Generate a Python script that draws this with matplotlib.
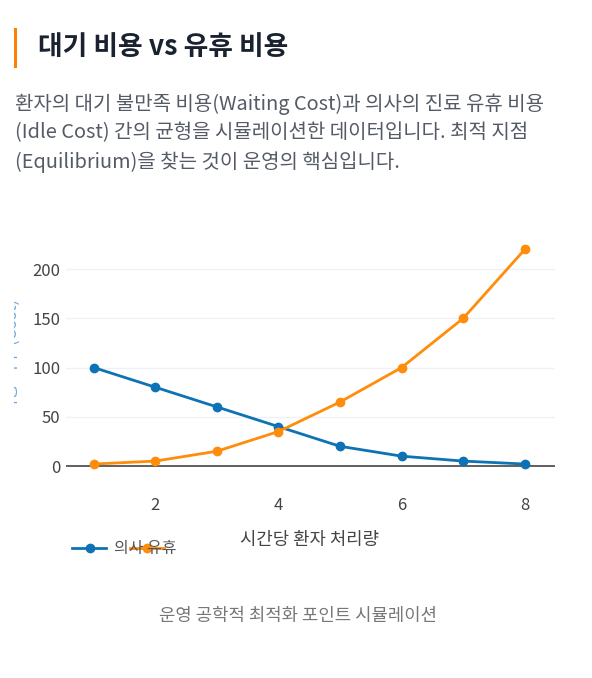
import matplotlib
matplotlib.use("Agg")
import matplotlib.pyplot as plt
from matplotlib.lines import Line2D
from matplotlib.patches import Rectangle

plt.rcParams['font.family'] = ['Noto Sans CJK KR', 'DejaVu Sans']

# data
throughput = [1, 2, 3, 4, 5, 6, 7, 8]
idle_cost = [100, 80, 60, 40, 20, 10, 5, 2]
wait_cost = [2, 5, 15, 35, 65, 100, 150, 220]
x_ticks = [2, 4, 6, 8]
y_ticks = [0, 50, 100, 150, 200]

title = "대기 비용 vs 유휴 비용"
desc = ["환자의 대기 불만족 비용(Waiting Cost)과 의사의 진료 유휴 비용",
        "(Idle Cost) 간의 균형을 시뮬레이션한 데이터입니다. 최적 지점",
        "(Equilibrium)을 찾는 것이 운영의 핵심입니다."]
x_label = "시간당 환자 처리량"
y_label = "비용 지수 (Cost)"
caption = "운영 공학적 최적화 포인트 시뮬레이션"
idle_name = "의사 유휴"

BLUE = "#0d73b5"
ORANGE = "#ff8c0a"

W, H = 592, 678
fig = plt.figure(figsize=(W / 100, H / 100), dpi=100)


def fx(px):
    return px / W


def fy(py):
    return 1 - py / H


# header
fig.patches.append(Rectangle((fx(14), fy(68)), fx(3), 40 / H, transform=fig.transFigure,
                             color="#ff8000", lw=0))
fig.text(fx(38), fy(47), title, fontsize=19.3, fontweight="bold", color="#1a2230",
         va="center", ha="left")
for i, line in enumerate(desc):
    fig.text(fx(15), fy(104 + i * 29), line, fontsize=14.4, color="#555b66",
             va="center", ha="left")

# plot area
left, right, bottom, top = 66, 555, 486, 240
ax = fig.add_axes([fx(left), fy(bottom), (right - left) / W, (bottom - top) / H])
ax.plot(throughput, idle_cost, color=BLUE, lw=2, marker="o", ms=6, zorder=3, clip_on=False)
ax.plot(throughput, wait_cost, color=ORANGE, lw=2, marker="o", ms=6, zorder=3, clip_on=False)
ax.set_xlim(0.55, 8.49)
ax.set_ylim(-20.3, 229.5)
ax.set_xticks(x_ticks)
ax.set_yticks(y_ticks)
ax.axhline(0, color="#444444", lw=1.2, zorder=2)
for v in y_ticks[1:]:
    ax.axhline(v, color="#eef1f6", lw=1, zorder=1)
for s in ax.spines.values():
    s.set_visible(False)
ax.tick_params(length=0, labelsize=12, colors="#444444", pad=4)
ax.tick_params(axis="x", pad=8)

fig.text(fx(310), fy(540), x_label, fontsize=12.8, color="#444444", ha="center", va="center")
# y title is mostly cut off in the reference; only a sliver shows
ylab = fig.text(fx(12), fy(356), y_label, fontsize=12, color="#6aa6de", rotation=90,
                ha="center", va="center")
clip = Rectangle((fx(14), 0), fx(20), 1, transform=fig.transFigure)
ylab.set_clip_path(clip)

# legend (overlapping entries as in reference)
fig.lines.append(Line2D([fx(72), fx(106)], [fy(548), fy(548)], transform=fig.transFigure,
                        color=BLUE, lw=2))
fig.lines.append(Line2D([fx(90)], [fy(548)], transform=fig.transFigure,
                        color=BLUE, marker="o", ms=6))
fig.text(fx(114), fy(548), idle_name, fontsize=11.5, color="#555555", ha="left", va="center")
fig.lines.append(Line2D([fx(130), fx(164)], [fy(548), fy(548)], transform=fig.transFigure,
                        color=ORANGE, lw=2))
fig.lines.append(Line2D([fx(147)], [fy(548)], transform=fig.transFigure,
                        color=ORANGE, marker="o", ms=6))

fig.text(fx(298), fy(616), caption, fontsize=12.8, color="#777777", style="italic",
         ha="center", va="center")

fig.savefig("out.png", dpi=100)
